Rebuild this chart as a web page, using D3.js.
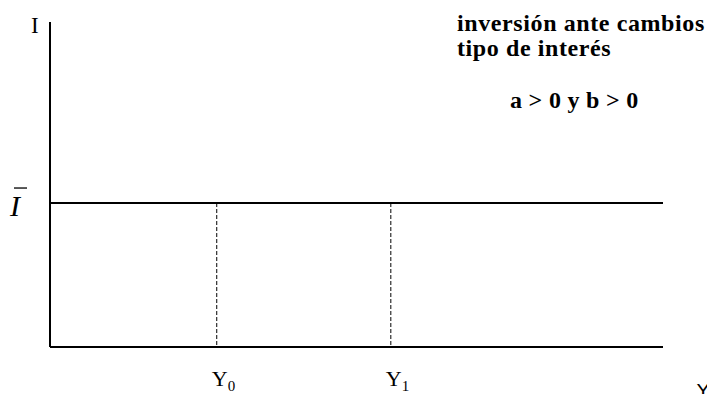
<!DOCTYPE html>
<html>
<head>
<meta charset="utf-8">
<script src="https://cdn.jsdelivr.net/npm/d3@7"></script>
<style>
  html, body { margin: 0; padding: 0; background: #fff; overflow: hidden; }
  svg { display: block; }
</style>
</head>
<body>
<script>
// Autonomous investment: a flat line at Ī, unaffected by income
const incomeLabels = ["0", "1"];
const incomeValues = [27.2, 55.6];
const investmentLevel = [44.3];
const titleLines = ["inversión ante cambios", "tipo de interés"];
const conditionText = ["a > 0 y b > 0"];

const W = 707, H = 394;
const svg = d3.select("body").append("svg").attr("width", W).attr("height", H);

const x = d3.scaleLinear().domain([0, 100]).range([50, 663]);
const y = d3.scaleLinear().domain([0, 100]).range([347, 22]);

const serif = "'Liberation Serif', 'Times New Roman', serif";

// axes
svg.append("line")
  .attr("x1", x(0)).attr("x2", x(0))
  .attr("y1", y(100)).attr("y2", y(0))
  .attr("stroke", "#000").attr("stroke-width", 2);
svg.append("line")
  .attr("x1", x(0)).attr("x2", x(100))
  .attr("y1", y(0)).attr("y2", y(0))
  .attr("stroke", "#000").attr("stroke-width", 2);

// investment line
svg.selectAll("line.inv").data(investmentLevel).enter().append("line")
  .attr("class", "inv")
  .attr("x1", x(0)).attr("x2", x(100))
  .attr("y1", d => y(d)).attr("y2", d => y(d))
  .attr("stroke", "#000").attr("stroke-width", 2);

// dashed guides at each income level
svg.selectAll("line.guide").data(incomeValues).enter().append("line")
  .attr("class", "guide")
  .attr("x1", d => x(d)).attr("x2", d => x(d))
  .attr("y1", y(investmentLevel[0])).attr("y2", y(0))
  .attr("stroke", "#000").attr("stroke-width", 1)
  .attr("stroke-dasharray", "4,2");

// income labels Y0, Y1
const yl = svg.selectAll("text.ylab").data(incomeValues).enter().append("text")
  .attr("class", "ylab")
  .attr("x", d => x(d) - 5)
  .attr("y", 386)
  .attr("font-family", serif)
  .attr("font-size", 22)
  .attr("text-anchor", "start");
yl.append("tspan").text("Y");
yl.append("tspan").attr("font-size", 15).attr("dy", 5).text((d, i) => incomeLabels[i]);

// axis names
svg.append("text")
  .attr("x", 31).attr("y", 33)
  .attr("font-family", serif).attr("font-size", 23)
  .text("I");
svg.append("text")
  .attr("x", 697).attr("y", 398)
  .attr("font-family", "'DejaVu Sans', sans-serif").attr("font-size", 20)
  .text("Y");

// Ī label
svg.append("text")
  .attr("x", 10).attr("y", y(investmentLevel[0]) + 13)
  .attr("font-family", serif).attr("font-style", "italic").attr("font-size", 30)
  .text("I");
svg.append("line")
  .attr("x1", 14).attr("x2", 27)
  .attr("y1", y(investmentLevel[0]) - 15).attr("y2", y(investmentLevel[0]) - 15)
  .attr("stroke", "#000").attr("stroke-width", 1.3);

// title block
svg.selectAll("text.title").data(titleLines).enter().append("text")
  .attr("class", "title")
  .attr("x", 457)
  .attr("y", (d, i) => 31 + i * 25)
  .attr("font-family", serif).attr("font-weight", "bold").attr("font-size", 24)
  .attr("letter-spacing", 0.6)
  .text(d => d);
svg.selectAll("text.cond").data(conditionText).enter().append("text")
  .attr("class", "cond")
  .attr("x", 510).attr("y", 108)
  .attr("font-family", serif).attr("font-weight", "bold").attr("font-size", 24)
  .attr("letter-spacing", 0.3)
  .text(d => d);
</script>
</body>
</html>
